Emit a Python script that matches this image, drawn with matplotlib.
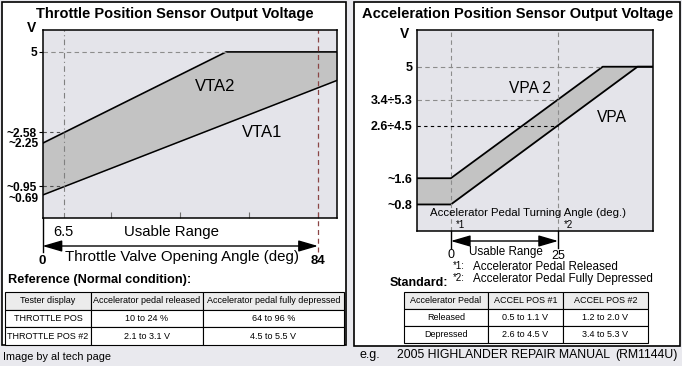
import numpy as np
import matplotlib
matplotlib.use("Agg")
import matplotlib.pyplot as plt
from matplotlib.patches import Rectangle, ArrowStyle

plt.rcParams['font.family'] = ['Liberation Sans', 'DejaVu Sans']

# throttle position sensor (left panel)
tps_angle2 = [0, 56, 90]
vta2 = [2.25, 5.0, 5.0]
tps_angle1 = [0, 90]
vta1 = [0.69, 4.15]
tps_yticks = [0.95, 2.58, 5]
tps_yticklabels = ["~0.95", "~2.58", "5"]
tps_xmarks = [21, 42, 63, 84]
tps_range = [0, 84]
tps_ref = 6.5

# accelerator position sensor (right panel)
app_angle2 = [-8, 0, 35.4, 47]
vpa2 = [1.6, 1.6, 5.0, 5.0]
app_angle1 = [-8, 0, 43.5, 47]
vpa = [0.8, 0.8, 5.0, 5.0]
app_yticks = [0.8, 1.6, 3.2, 4.0, 5]
app_yticklabels = ["~0.8", "~1.6", "2.6÷4.5", "3.4÷5.3", "5"]
app_range = [0, 25]

tps_cols = ["Tester display", "Accelerator pedal released", "Accelerator pedal fully depressed"]
tps_rows = [["THROTTLE POS", "10 to 24 %", "64 to 96 %"],
            ["THROTTLE POS #2", "2.1 to 3.1 V", "4.5 to 5.5 V"]]
app_cols = ["Accelerator Pedal", "ACCEL POS #1", "ACCEL POS #2"]
app_rows = [["Released", "0.5 to 1.1 V", "1.2 to 2.0 V"],
            ["Depressed", "2.6 to 4.5 V", "3.4 to 5.3 V"]]

W, H = 682, 366
fig = plt.figure(figsize=(W / 100, H / 100), dpi=100, facecolor='#e9e9ee')

# background layer in pixel coordinates
bg = fig.add_axes([0, 0, 1, 1], zorder=-1)
bg.set_xlim(0, W)
bg.set_ylim(H, 0)
bg.set_axis_off()
bg.add_patch(Rectangle((1.5, 1.5), 344, 343.5, facecolor='white', edgecolor='black', lw=1.2, zorder=0))
bg.add_patch(Rectangle((354, 1.5), 326, 344.5, facecolor='white', edgecolor='black', lw=1.2, zorder=0))


def add_ax(left, top, right, bottom):
    return fig.add_axes([left / W, 1 - bottom / H, (right - left) / W, (bottom - top) / H])


def ptext(ax, x, y, s, **kw):
    return ax.text(x, y, s, transform=bg.transData, **kw)


def below(box, ypx):
    # axes fraction for a pixel row (negative under the axes)
    return (box[3] - ypx) / (box[3] - box[1])


grid_kw = dict(color='#8c8c8c', lw=0.8, ls=(0, (4, 3)))
arrow = ArrowStyle('<|-|>', head_length=1.2, head_width=0.35)
tick_font = dict(fontweight='bold', fontsize=8.6)

# ---------------- left plot ----------------
box1 = (42.5, 30, 337, 218)
ax1 = add_ax(*box1)
ax1.set_facecolor('#e4e4ea')
ax1.set_xlim(0, 89.8)
ax1.set_ylim(0, 5.66)
xs = sorted(set(tps_angle1 + tps_angle2))
ax1.fill_between(xs, np.interp(xs, tps_angle1, vta1), np.interp(xs, tps_angle2, vta2),
                 color='#c3c3c3', lw=0)
ax1.plot(tps_angle2, vta2, color='black', lw=1.2)
ax1.plot(tps_angle1, vta1, color='black', lw=1.1)
ax1.axvline(tps_ref, color='#808080', lw=0.8, ls=(0, (5, 3, 1, 3)))
ax1.axvline(tps_range[1], ymin=below(box1, 252), ymax=1, color='#8b4545', lw=0.9,
            ls=(0, (4, 3)), clip_on=False)
ax1.axvline(tps_range[0], ymin=below(box1, 252), ymax=0, color='black', lw=1, clip_on=False)
ax1.hlines(vta2[1], 0, tps_angle2[1], **grid_kw)
ax1.hlines([tps_yticks[0], tps_yticks[1]], 0, tps_ref, color='#505050', lw=0.8, ls=(0, (3, 3)))
ax1.set_xticks(tps_xmarks)
ax1.set_xticklabels([])
ax1.tick_params(axis='x', direction='in', length=4, color='#707070')
ax1.set_yticks(tps_yticks)
ax1.set_yticklabels(tps_yticklabels, **tick_font)
ax1.tick_params(axis='y', length=3, pad=1)
ax1.text(-0.012, 2.22, "~2.25", transform=ax1.get_yaxis_transform(), ha='right', va='center',
         **tick_font)
ax1.text(-0.012, 0.58, "~0.69", transform=ax1.get_yaxis_transform(), ha='right', va='center',
         **tick_font)
for s in ax1.spines.values():
    s.set_linewidth(1.1)
ax1.text(52.6, 3.97, "VTA2", fontsize=12, ha='center', va='center')
ax1.text(66.9, 2.56, "VTA1", fontsize=12, ha='center', va='center')
ax1.annotate('', xy=(tps_range[0], below(box1, 246)), xytext=(tps_range[1], below(box1, 246)),
             xycoords=('data', 'axes fraction'), textcoords=('data', 'axes fraction'),
             arrowprops=dict(arrowstyle=arrow, color='black', lw=1, mutation_scale=10,
                             shrinkA=0, shrinkB=0))
ax1.text(tps_ref, below(box1, 232), "6.5", transform=ax1.get_xaxis_transform(),
         ha='center', va='center', fontsize=10.5)
ax1.text(tps_range[0], below(box1, 261), "0", transform=ax1.get_xaxis_transform(),
         ha='center', va='center', fontsize=9.5, fontweight='bold')
ax1.text(tps_range[1], below(box1, 261), "84", transform=ax1.get_xaxis_transform(),
         ha='center', va='center', fontsize=9.5, fontweight='bold')

ptext(bg, 175, 14, "Throttle Position Sensor Output Voltage", ha='center', va='center',
      fontsize=10.5, fontweight='bold')
ptext(bg, 32, 28, "V", ha='center', va='center', fontsize=10, fontweight='bold')
ptext(bg, 171, 232, "Usable Range", ha='center', va='center', fontsize=10.8)
ptext(bg, 182, 257, "Throttle Valve Opening Angle (deg)", ha='center', va='center', fontsize=10.8)
ptext(bg, 8, 280, "Reference (Normal condition):", ha='left', va='center', fontsize=9.2,
      fontweight='bold')
ptext(bg, 3, 357, "Image by al tech page", ha='left', va='center', fontsize=7.8)

# ---------------- right plot ----------------
box2 = (416.5, 30, 652.5, 230.7)
ax2 = add_ax(*box2)
ax2.set_facecolor('#e4e4ea')
ax2.set_xlim(-8, 47)
ax2.set_ylim(0, 6.12)
xs2 = sorted(set(app_angle1 + app_angle2))
ax2.fill_between(xs2, np.interp(xs2, app_angle1, vpa), np.interp(xs2, app_angle2, vpa2),
                 color='#c3c3c3', lw=0)
ax2.plot(app_angle2, vpa2, color='black', lw=1.3)
ax2.plot(app_angle1, vpa, color='black', lw=1.3)
for a in app_range:
    ax2.axvline(a, **grid_kw)
    ax2.axvline(a, ymin=below(box2, 248), ymax=0, color='black', lw=1, clip_on=False)
ax2.hlines(vpa2[2], -8, app_angle2[2], **grid_kw)
ax2.hlines(app_yticks[3], -8, app_range[1], **grid_kw)
ax2.hlines(app_yticks[2], -8, app_range[1], color='black', lw=0.8, ls=(0, (3, 3)))
ax2.set_xticks([])
ax2.set_yticks(app_yticks)
ax2.set_yticklabels(app_yticklabels, fontweight='bold', fontsize=9)
ax2.tick_params(axis='y', length=0, pad=3)
for s in ax2.spines.values():
    s.set_linewidth(1.1)
ax2.text(18.4, 4.35, "VPA 2", fontsize=11.2, ha='center', va='center')
ax2.text(37.5, 3.44, "VPA", fontsize=11.2, ha='center', va='center')
ax2.annotate('', xy=(app_range[0], below(box2, 241)), xytext=(app_range[1], below(box2, 241)),
             xycoords=('data', 'axes fraction'), textcoords=('data', 'axes fraction'),
             arrowprops=dict(arrowstyle=arrow, color='black', lw=1, mutation_scale=10,
                             shrinkA=0, shrinkB=0))
ax2.text(app_range[0], below(box2, 255), "0", transform=ax2.get_xaxis_transform(),
         ha='center', va='center', fontsize=9)
ax2.text(app_range[1], below(box2, 256), "25", transform=ax2.get_xaxis_transform(),
         ha='center', va='center', fontsize=9)
ax2.text(app_range[0] + 2.3, below(box2, 225), "*1", transform=ax2.get_xaxis_transform(),
         ha='center', va='center', fontsize=7)
ax2.text(app_range[1] + 2.3, below(box2, 225), "*2", transform=ax2.get_xaxis_transform(),
         ha='center', va='center', fontsize=7)
ptext(ax2, 528, 213, "Accelerator Pedal Turning Angle (deg.)", ha='center', va='center',
      fontsize=8.2)

ptext(bg, 518, 14, "Acceleration Position Sensor Output Voltage", ha='center', va='center',
      fontsize=10.5, fontweight='bold')
ptext(bg, 405, 34, "V", ha='center', va='center', fontsize=10, fontweight='bold')
ptext(bg, 506, 252, "Usable Range", ha='center', va='center', fontsize=8.4)
ptext(bg, 453, 266, "*1:", ha='left', va='center', fontsize=7)
ptext(bg, 473, 267, "Accelerator Pedal Released", ha='left', va='center', fontsize=8.4)
ptext(bg, 453, 278, "*2:", ha='left', va='center', fontsize=7)
ptext(bg, 473, 279, "Accelerator Pedal Fully Depressed", ha='left', va='center', fontsize=8.4)
ptext(bg, 390, 283, "Standard:", ha='left', va='center', fontsize=9, fontweight='bold')
ptext(bg, 360, 355, "e.g.", ha='left', va='center', fontsize=9)
ptext(bg, 397, 355, "2005 HIGHLANDER REPAIR MANUAL", ha='left', va='center', fontsize=8.8)
ptext(bg, 678, 355, "(RM1144U)", ha='right', va='center', fontsize=8.8)


# ---------------- tables ----------------
def draw_table(cols, rows, x0, y0, x1, y1, widths):
    tb = bg.table(cellText=rows, colLabels=cols, colWidths=widths, cellLoc='center',
                  bbox=[x0 / W, 1 - y1 / H, (x1 - x0) / W, (y1 - y0) / H])
    tb.set_zorder(5)
    tb.auto_set_font_size(False)
    tb.set_fontsize(6.5)
    for (r, c), cell in tb.get_celld().items():
        cell.set_linewidth(0.8)
        cell.set_facecolor('#ececec' if r == 0 else 'white')
    return tb


draw_table(tps_cols, tps_rows, 5, 292, 344, 345, [86, 112, 141])
draw_table(app_cols, app_rows, 404, 292, 648, 343, [84, 75, 85])

plt.savefig("out.png", dpi=100, facecolor=fig.get_facecolor())
